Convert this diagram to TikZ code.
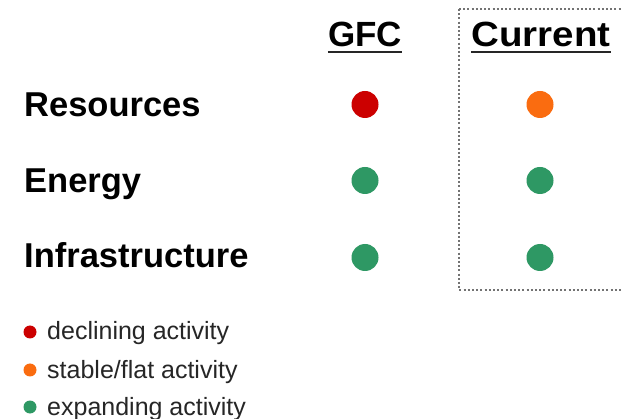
\documentclass[tikz,border=0pt]{standalone}
\usepackage{fontspec}
\setmainfont{Liberation Sans}
\definecolor{dred}{RGB}{204,0,0}
\definecolor{dorange}{RGB}{250,108,16}
\definecolor{dgreen}{RGB}{46,152,100}
\definecolor{legtext}{RGB}{38,38,38}
\definecolor{boxgray}{RGB}{115,115,115}
\begin{document}
\begin{tikzpicture}[x=1pt,y=-1pt,
  rowlabel/.style={anchor=base west,inner sep=0pt,font=\fontsize{34.5}{38}\selectfont\bfseries},
  header/.style={anchor=base,inner sep=0pt,font=\fontsize{35}{38}\selectfont\bfseries},
  bigdot/.style={circle,inner sep=0pt,minimum size=27pt},
  legdot/.style={circle,inner sep=0pt,minimum size=13pt},
  legtxt/.style={anchor=base west,inner sep=0pt,text=legtext,font=\fontsize{25}{28}\selectfont},
  uline/.style={line width=2pt,draw=black!85},
  dotbox/.style={draw=boxgray,line width=2pt,dash pattern=on 2pt off 2.2pt}
]
\useasboundingbox (0,0) rectangle (621,419);
\clip (0,0) rectangle (621,419);
\fill[white] (0,0) rectangle (621,419);

% dotted frame around the Current column
\draw[dotbox] (459,9) -- (630,9);
\draw[dotbox] (459,9) -- (459,290) -- (630,290);

% headers
\node[header] (gfc) at (365,47) {GFC};
\node[header,xscale=1.1] (cur) at (541,47) {Current};
\draw[uline] ([yshift=-5pt]gfc.base west) -- ([yshift=-5pt]gfc.base east);
\draw[uline] ([yshift=-5pt]cur.base west) -- ([yshift=-5pt]cur.base east);

% row labels
\node[rowlabel] (res) at (24,117) {Resources};
\node[rowlabel] (ene) at (24,193) {Energy};
\node[rowlabel] (inf) at (24,268) {Infrastructure};

% status dots
\node[bigdot,fill=dred]    (d11) at (365,104.5) {};
\node[bigdot,fill=dorange] (d12) at (540,104.5) {};
\node[bigdot,fill=dgreen]  (d21) at (365,180.5) {};
\node[bigdot,fill=dgreen]  (d22) at (540,180.5) {};
\node[bigdot,fill=dgreen]  (d31) at (365,257.5) {};
\node[bigdot,fill=dgreen]  (d32) at (540,257.5) {};

% legend
\node[legdot,fill=dred]    (l1) at (30,332) {};
\node[legdot,fill=dorange] (l2) at (30,370) {};
\node[legdot,fill=dgreen]  (l3) at (30,407) {};
\node[legtxt] (t1) at (47,340) {declining activity};
\node[legtxt] (t2) at (47,378) {stable/flat activity};
\node[legtxt] (t3) at (47,415) {expanding activity};
\end{tikzpicture}
\end{document}
